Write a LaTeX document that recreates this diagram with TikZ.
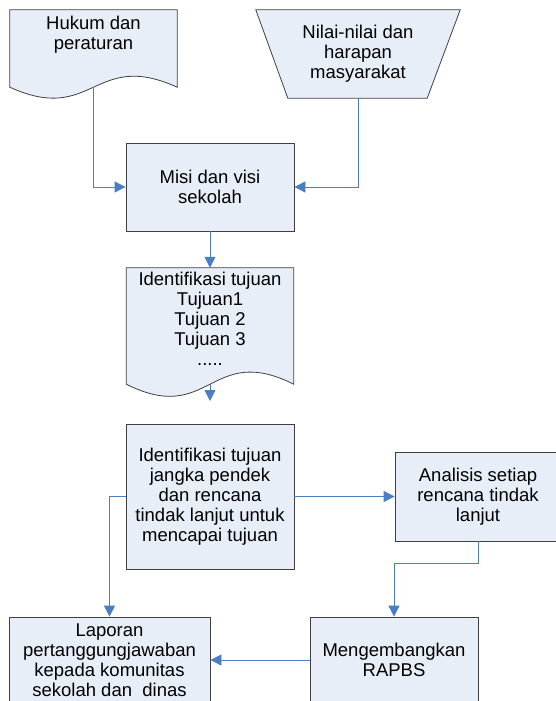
\documentclass[tikz,border=0pt]{standalone}
\usepackage{fontspec}
\setmainfont{Liberation Sans}
\usepackage{tikz}
\usetikzlibrary{
  arrows.meta,
  calc,
  backgrounds
}
\definecolor{boxfill}{RGB}{232,238,247}
\definecolor{boxline}{RGB}{64,64,64}
\definecolor{arrblue}{RGB}{74,126,193}
\tikzset{
  procbox/.style={
    draw=boxline,
    fill=boxfill,
    line width=0.8pt,
    inner sep=0pt,
    align=center,
    font=\fontsize{18.5}{20}\selectfont,
  },
  docbox/.style={
    inner sep=0pt,
    align=center,
    font=\fontsize{18.5}{20}\selectfont,
  },
  shapeline/.style={
    draw=boxline,
    fill=boxfill,
    line width=0.8pt,
  },
  arr/.style={
    -{Triangle[length=11pt,width=11pt]},
    line width=0.8pt,
    draw=arrblue,
  },
}

\begin{document}
\begin{tikzpicture}[x=1pt, y=-1pt]
  \useasboundingbox (0,0) rectangle (556,701);
  \clip (0,0) rectangle (556,701);

  % Top row --- sources
  \node[docbox, minimum width=167pt, text height=39.5pt, text depth=37.5pt]
    (hukum) at (93.5,48.5) {Hukum dan\\peraturan};
  \node[docbox, minimum width=204pt, minimum height=88pt]
    (nilai) at (358,54) {Nilai-nilai dan\\harapan\\masyarakat};

  % Mission and goals
  \node[procbox, minimum width=168pt, minimum height=88pt]
    (misi) at (210,187) {Misi dan visi\\sekolah};
  \node[docbox, minimum width=167pt, text height=97.5pt, text depth=18.5pt]
    (tujuan) at (210,326) {Identifikasi tujuan\\Tujuan1\\Tujuan 2\\Tujuan 3\\.....};
  \coordinate (tujuanend) at (210,401);

  % Plans
  \node[procbox, minimum width=168pt, minimum height=145pt]
    (jangka) at (210,496.5)
    {Identifikasi tujuan\\jangka pendek\\dan rencana\\tindak lanjut untuk\\mencapai tujuan};
  \node[procbox, minimum width=166pt, minimum height=89pt]
    (analisis) at (478,496.5) {Analisis setiap\\rencana tindak\\lanjut};

  % Budget and report
  \node[procbox, minimum width=168pt, minimum height=86pt]
    (rapbs) at (394,660) {Mengembangkan\\RAPBS};
  \node[procbox, minimum width=201pt, text height=79.5pt, text depth=26.5pt]
    (laporan) at (109.5,670)
    {Laporan\\pertanggungjawaban\\kepada komunitas\\sekolah dan\ \ dinas};

  % outlines of the document and trapezium shapes
  \begin{scope}[on background layer]
    \path[shapeline] (hukum.north west) -- (hukum.north east) -- (hukum.south east)
      .. controls ($(hukum.south)+(0,-38)$) and ($(hukum.south)+(0,38)$) .. (hukum.south west) -- cycle;
    \path[shapeline] (nilai.north west) -- (nilai.north east)
      -- ($(nilai.south east)+(-33,0)$) -- ($(nilai.south west)+(32,0)$) -- cycle;
    \path[shapeline] (tujuan.north west) -- (tujuan.north east) -- (tujuan.south east)
      .. controls ($(tujuan.south)+(0,-42)$) and ($(tujuan.south)+(0,42)$) .. (tujuan.south west) -- cycle;
  \end{scope}

  \draw[arr] (hukum.south) |- (misi.west);
  \draw[arr] (nilai.south) |- (misi.east);
  \draw[arr] (misi.south) -- (tujuan.north);
  \draw[arr] (tujuan.south) -- (tujuanend);
  \draw[arr] (jangka.east) -- (analisis.west);
  \draw[arr] (analisis.south) -- ++(0,22) -| (rapbs.north);
  \draw[arr] (rapbs.west) -- (rapbs.west -| laporan.east);
  \draw[arr] (jangka.west) -| (laporan.north);
\end{tikzpicture}
\end{document}
